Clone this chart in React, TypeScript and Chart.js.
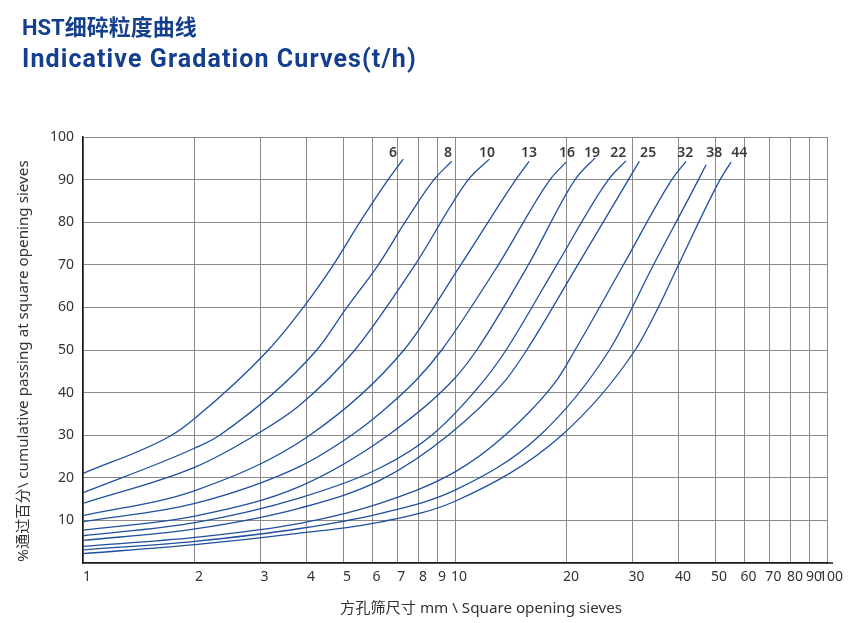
import React, { useEffect, useRef } from 'react';
import { Chart, registerables } from 'chart.js';

Chart.register(...registerables);

// Sieve size (mm) vs cumulative passing (%), one array per curve (t/h setting)
const curveLabels = ['6', '8', '10', '13', '16', '19', '22', '25', '32', '38', '44'];

const curve6 = [[1, 21.0], [1.73, 30], [2, 34], [3.15, 50], [3.91, 60], [4.71, 70], [5.55, 80], [6.61, 90], [7.26, 94.8]];
const curve8 = [[1, 16.5], [2, 27], [2.33, 30], [4.25, 50], [5.12, 60], [6.22, 70], [7.34, 80], [8.78, 90], [9.8, 94.3]];
const curve10 = [[1, 14.0], [2, 22.5], [2.9, 30], [3.83, 37.1], [5.38, 50], [7.81, 70], [10.86, 90], [12.37, 94.8]];
const curve13 = [[1, 11.1], [2, 17], [4.07, 30], [7.29, 50], [10.36, 70], [14.57, 90], [15.82, 94.3]];
const curve16 = [[1, 9.7], [2, 14], [3.83, 22.7], [5.27, 30], [6.28, 35.1], [7.88, 43], [9.21, 50], [13.08, 70], [18.01, 90], [19.89, 94.1]];
const curve19 = [[1, 7.7], [2, 11], [3.83, 18.0], [6.61, 30], [9.9, 43], [11.44, 50], [15.75, 70], [21.03, 90], [23.8, 95.1]];
const curve22 = [[1, 6.4], [2, 9.5], [3.83, 15.3], [6.28, 22.3], [8.66, 30], [12.0, 43], [13.72, 50], [18.78, 70], [25.85, 90], [28.8, 94.4]];
const curve25 = [[1, 5.3], [2, 8], [3.83, 12.9], [6.28, 19.4], [9.59, 30], [13.7, 43], [15.59, 50], [21.38, 70], [29.26, 90], [31.3, 94.3]];
const curve32 = [[1, 3.9], [2, 6.0], [3.83, 9.3], [6.28, 14.0], [10, 21.4], [13.63, 30], [18.8, 43], [21.03, 50], [28.37, 70], [38.28, 90], [41.8, 94.3]];
const curve38 = [[1, 3.1], [2, 5.1], [3.83, 8.1], [6.28, 11.6], [10, 17.1], [16.93, 30], [26.01, 50], [34.17, 70], [45.14, 90], [47.3, 93.5]];
const curve44 = [[1, 2.2], [2, 4.3], [3.83, 7.0], [6.28, 9.6], [10, 14.5], [19.36, 30], [30.5, 50], [35.2, 60], [39.89, 70], [51.6, 90], [55.2, 94.1]];

const curves = [curve6, curve8, curve10, curve13, curve16, curve19, curve22, curve25, curve32, curve38, curve44];

// curve name labels (in data units: mm, %)
const labelX = [6.81, 9.57, 12.19, 15.82, 20.0, 23.36, 27.45, 33.05, 41.57, 49.76, 58.08];
const labelY = 96.3;

const xTicks = [1, 2, 3, 4, 5, 6, 7, 8, 9, 10, 20, 30, 40, 50, 60, 70, 80, 90, 100];
const yTicks = [0, 10, 20, 30, 40, 50, 60, 70, 80, 90, 100];

const TITLE_CN = 'HST细碎粒度曲线';
const TITLE_EN = 'Indicative Gradation Curves(t/h)';
const X_TITLE = '方孔筛尺寸 mm \\ Square opening sieves';
const Y_TITLE = '%通过百分\\ cumulative passing at square opening sieves';

const LINE_BLUE = '#1f4f9e';
const TITLE_BLUE = '#143f8c';
const GRID = '#8a8a8a';
const TEXT = '#333333';

const textPlugin = {
  id: 'extraTexts',
  afterDraw(chart: any) {
    const { ctx, chartArea, scales } = chart;
    ctx.save();
    // extend x axis line slightly past 100
    ctx.strokeStyle = '#1a1a1a';
    ctx.lineWidth = 1.5;
    ctx.beginPath();
    ctx.moveTo(chartArea.right - 1, chartArea.bottom);
    ctx.lineTo(chartArea.right + 6, chartArea.bottom);
    ctx.stroke();

    // titles
    ctx.fillStyle = TITLE_BLUE;
    ctx.textAlign = 'left';
    ctx.textBaseline = 'alphabetic';
    ctx.font = "bold 22px Roboto, 'Noto Sans CJK SC', sans-serif";
    ctx.fillText(TITLE_CN, 22, 35);
    ctx.font = 'bold 25px Roboto, sans-serif';
    (ctx as any).letterSpacing = '1.1px';
    ctx.fillText(TITLE_EN, 22, 67);
    (ctx as any).letterSpacing = '0px';

    // curve labels
    ctx.fillStyle = '#3a3a3a';
    ctx.font = "600 14px 'Noto Sans', sans-serif";
    ctx.textAlign = 'center';
    ctx.textBaseline = 'middle';
    curveLabels.forEach((l, i) => {
      ctx.fillText(l, scales.x.getPixelForValue(labelX[i]), scales.y.getPixelForValue(labelY));
    });

    // axis titles
    ctx.fillStyle = TEXT;
    ctx.font = "15.2px 'Noto Sans', 'Noto Sans CJK SC', sans-serif";
    ctx.fillText(X_TITLE, 481, 609);
    ctx.translate(24, 361);
    ctx.rotate(-Math.PI / 2);
    ctx.fillText(Y_TITLE, 0, 0);
    ctx.restore();
  },
};

export default function App() {
  const ref = useRef<HTMLCanvasElement | null>(null);

  useEffect(() => {
    if (!ref.current) return;
    const chart = new Chart(ref.current, {
      type: 'line',
      data: {
        datasets: curves.map((c, i) => ({
          label: curveLabels[i],
          data: c.map(([x, y]) => ({ x, y })),
          borderColor: LINE_BLUE,
          backgroundColor: LINE_BLUE,
          borderWidth: 1.3,
          pointRadius: 0,
          fill: false,
          cubicInterpolationMode: 'monotone' as const,
        })),
      },
      plugins: [textPlugin],
      options: {
        animation: false,
        responsive: false,
        layout: { padding: { left: 0, right: 39, top: 137, bottom: 0 } },
        plugins: {
          legend: { display: false },
          tooltip: { enabled: false },
          title: { display: false },
        },
        scales: {
          x: {
            type: 'logarithmic',
            min: 1,
            max: 100,
            afterBuildTicks: (s: any) => {
              s.ticks = xTicks.map((v) => ({ value: v }));
            },
            afterFit: (s: any) => {
              s.height = 60;
            },
            grid: { color: GRID, lineWidth: 1, drawTicks: false },
            border: { color: '#1a1a1a', width: 1.5 },
            ticks: {
              autoSkip: false,
              maxRotation: 0,
              padding: 6,
              labelOffset: 4,
              color: TEXT,
              font: { family: "'Noto Sans', sans-serif", size: 14 },
              callback: (v: any) => String(v),
            },
          },
          y: {
            min: 0,
            max: 100,
            afterBuildTicks: (s: any) => {
              s.ticks = yTicks.map((v) => ({ value: v }));
            },
            afterFit: (s: any) => {
              s.width = 83;
            },
            grid: { color: GRID, lineWidth: 1, drawTicks: false },
            border: { color: '#1a1a1a', width: 1.5 },
            ticks: {
              padding: 9,
              color: TEXT,
              font: { family: "'Noto Sans', sans-serif", size: 14 },
              callback: (v: any) => (v === 0 ? '' : String(v)),
            },
          },
        },
      },
    } as any);
    return () => chart.destroy();
  }, []);

  return (
    <div style={{ position: 'absolute', left: 0, top: 0, width: 866, height: 623, background: '#fff' }}>
      <canvas ref={ref} width={866} height={623} style={{ width: 866, height: 623, display: 'block' }} />
    </div>
  );
}
